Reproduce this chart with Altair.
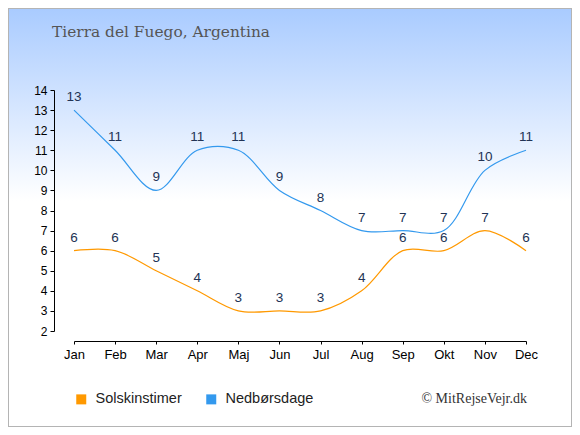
import altair as alt
import pandas as pd

months = ["Jan", "Feb", "Mar", "Apr", "Maj", "Jun", "Jul", "Aug", "Sep", "Okt", "Nov", "Dec"]
sunshine_hours = [6, 6, 5, 4, 3, 3, 3, 4, 6, 6, 7, 6]
rain_days = [13, 11, 9, 11, 11, 9, 8, 7, 7, 7, 10, 11]
series_names = ["Solskinstimer", "Nedbørsdage"]
series_colors = ["#ff9900", "#3399ee"]
y_ticks = list(range(2, 15))
title_text = "Tierra del Fuego, Argentina"
credit_text = "© MitRejseVejr.dk"

rows = []
for name, vals in zip(series_names, [sunshine_hours, rain_days]):
    for m, v in zip(months, vals):
        rows.append({"month": m, "series": name, "value": v})
df = pd.DataFrame(rows)
one = pd.DataFrame({"k": [0]})

W, H = 452, 241
PL, PT, PR, PB = 66, 82, 46, 96

x = alt.X(
    "month:N", sort=months,
    scale=alt.Scale(type="point", padding=0),
    axis=alt.Axis(title=None, labelAngle=0, offset=10, tickSize=3,
                  domainColor="black", tickColor="black", labelColor="black",
                  labelFont="Liberation Sans", labelFontSize=13, labelPadding=4,
                  grid=False, zindex=2),
)
y = alt.Y(
    "value:Q",
    scale=alt.Scale(domain=[2, 14], nice=False, zero=False),
    axis=alt.Axis(title=None, values=y_ticks, offset=20, tickSize=4,
                  domainColor="black", tickColor="black", labelColor="black",
                  labelFont="Liberation Sans", labelFontSize=12, labelPadding=3,
                  grid=False, zindex=2),
)
series_scale = alt.Scale(domain=series_names, range=series_colors)
series_legend = alt.Legend(title=None, orient="none", legendX=0, legendY=302,
                           direction="horizontal", symbolType="square", symbolSize=100,
                           symbolStrokeWidth=0, symbolOpacity=1,
                           labelFont="Liberation Sans", labelFontSize=14.5, labelColor="#222222",
                           columnPadding=22, labelOffset=7, padding=0, zindex=2)

gradient = alt.LinearGradient(
    gradient="linear",
    stops=[alt.GradientStop(offset=0, color="#a9cbff"),
           alt.GradientStop(offset=0.46, color="#ffffff"),
           alt.GradientStop(offset=1, color="#ffffff")],
    x1=0, x2=0, y1=0, y2=1,
)

bg = alt.Chart(one).mark_rect(fill=gradient, stroke="#b4b4b4", strokeWidth=2).encode(
    x=alt.value(-PL), x2=alt.value(W + PR), y=alt.value(-PT), y2=alt.value(H + PB)
)

lines = alt.Chart(df).mark_line(interpolate="catmull-rom", strokeWidth=1.2).encode(
    x=x, y=y, stroke=alt.Stroke("series:N", scale=series_scale, legend=series_legend)
)

legend_marks = alt.Chart(df).mark_square(opacity=0, size=100).encode(
    x=x, y=y,
    fill=alt.Fill("series:N", scale=series_scale, legend=series_legend),
)

labels = alt.Chart(df).mark_text(dy=-13, fontSize=13.5, font="Liberation Sans", color="#223355").encode(
    x=x, y=y, text="value:Q", detail="series:N"
)

title = alt.Chart(one).mark_text(text=title_text, align="left", baseline="alphabetic",
                                 font="DejaVu Serif", fontSize=15.4, color="#555555").encode(
    x=alt.value(-22), y=alt.value(-53)
)

credit = alt.Chart(one).mark_text(text=credit_text, align="right", baseline="alphabetic",
                                  font="Liberation Serif", fontSize=14, color="#333333").encode(
    x=alt.value(453), y=alt.value(313)
)

chart = alt.layer(bg, lines, legend_marks, labels, title, credit).properties(
    width=W, height=H,
    autosize=alt.AutoSizeParams(type="none"),
    padding={"left": PL, "top": PT, "right": PR, "bottom": PB},
).configure_view(stroke=None)

chart.save("out.html", embed_options={"renderer": "svg", "actions": False})
